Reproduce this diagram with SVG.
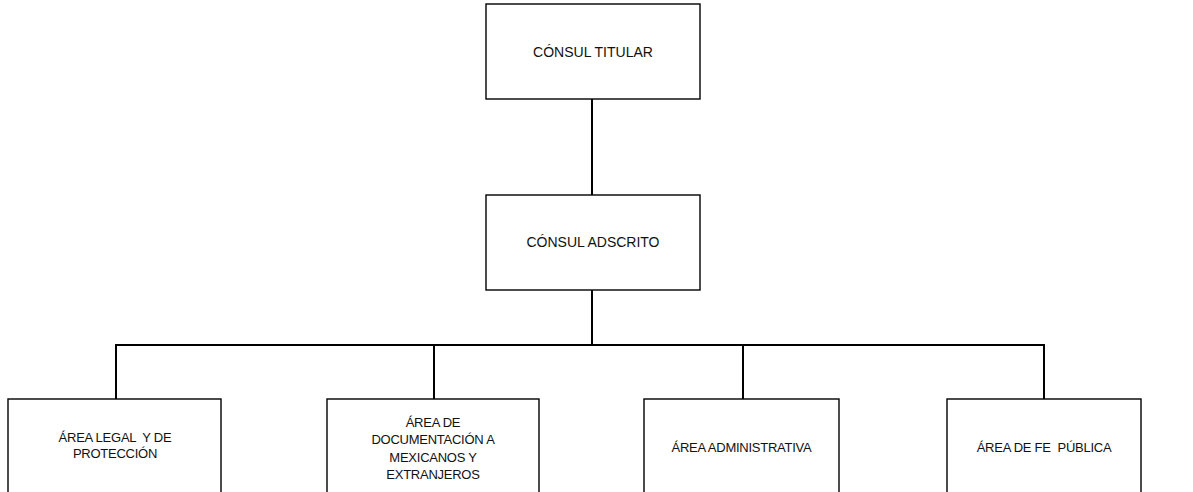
<svg xmlns="http://www.w3.org/2000/svg" width="1193" height="492" viewBox="0 0 1193 492">
<style>
.box{fill:#fff;stroke:#000;stroke-width:1.4}
.conn{fill:none;stroke:#000;stroke-width:2}
.t{font-family:"Liberation Sans",Arial,sans-serif;font-size:14px;fill:#111;text-anchor:middle}
.s{font-family:"Liberation Sans",Arial,sans-serif;font-size:13px;fill:#111;text-anchor:middle;letter-spacing:-0.25px}
</style>
<rect width="1193" height="492" fill="#fff"/>
<g id="connectors">
<path class="conn" d="M592 99V196"/>
<path class="conn" d="M592 290V345"/>
<path class="conn" d="M115.5 345H1044"/>
<path class="conn" d="M116 344V399"/>
<path class="conn" d="M434 345V399"/>
<path class="conn" d="M743 345V399"/>
<path class="conn" d="M1044 344V399"/>
</g>
<g id="consul-titular">
<rect class="box" x="486" y="4" width="214" height="95"/>
<text class="t" x="593" y="57">CÓNSUL TITULAR</text>
</g>
<g id="consul-adscrito">
<rect class="box" x="486" y="195" width="214" height="95"/>
<text class="t" x="593" y="247">CÓNSUL ADSCRITO</text>
</g>
<g id="area-legal">
<rect class="box" x="8" y="399" width="213" height="110"/>
<text class="s" x="115" y="442" xml:space="preserve">ÁREA LEGAL  Y DE</text>
<text class="s" x="115" y="458">PROTECCIÓN</text>
</g>
<g id="area-documentacion">
<rect class="box" x="327" y="399" width="212" height="110"/>
<text class="s" x="433" y="427">ÁREA DE</text>
<text class="s" x="433" y="444">DOCUMENTACIÓN A</text>
<text class="s" x="433" y="461.5">MEXICANOS Y</text>
<text class="s" x="433" y="479">EXTRANJEROS</text>
</g>
<g id="area-administrativa">
<rect class="box" x="644" y="399" width="195" height="110"/>
<text class="s" x="741.5" y="452">ÁREA ADMINISTRATIVA</text>
</g>
<g id="area-fe-publica">
<rect class="box" x="947" y="399" width="194" height="110"/>
<text class="s" x="1044" y="452" xml:space="preserve">ÁREA DE FE  PÚBLICA</text>
</g>
</svg>
